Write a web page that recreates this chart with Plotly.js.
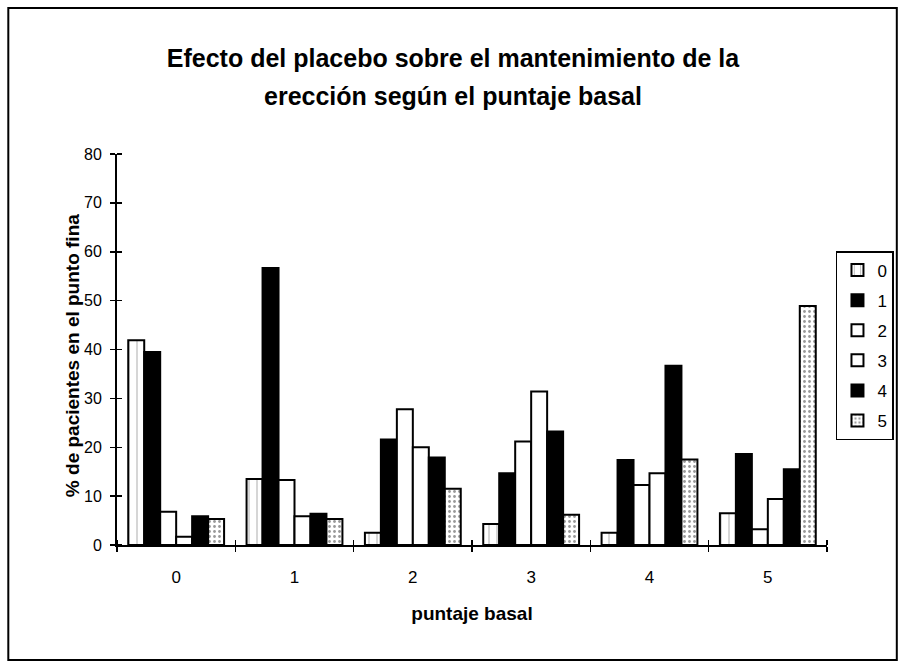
<!DOCTYPE html>
<html>
<head>
<meta charset="utf-8">
<script src="https://cdn.plot.ly/plotly-3.0.1.min.js"></script>
<style>html,body{margin:0;padding:0;background:#fff;}#chart{width:906px;height:669px;}</style>
</head>
<body>
<div id="chart"></div>
<script>
var categories = [0, 1, 2, 3, 4, 5];
var categoryLabels = ["0", "1", "2", "3", "4", "5"];
var seriesNames = ["0", "1", "2", "3", "4", "5"];
var s0 = [41.9, 13.5, 2.5, 4.3, 2.5, 6.5];
var s1 = [39.5, 56.7, 21.6, 14.7, 17.4, 18.6];
var s2 = [6.8, 13.3, 27.8, 21.2, 12.3, 3.2];
var s3 = [1.7, 5.9, 20.0, 31.4, 14.7, 9.4];
var s4 = [5.9, 6.4, 17.9, 23.2, 36.7, 15.5];
var s5 = [5.3, 5.3, 11.5, 6.2, 17.5, 48.9];
var yTicks = [0, 10, 20, 30, 40, 50, 60, 70, 80];
var boundaries = [-0.5, 0.5, 1.5, 2.5, 3.5, 4.5, 5.5];
var titleLine1 = "Efecto del placebo sobre el mantenimiento de la";
var titleLine2 = "erección según el puntaje basal";
var yTitle = "% de pacientes en el punto fina";
var xTitle = "puntaje basal";

var seriesValues = [s0, s1, s2, s3, s4, s5];
var fills = ["#ffffff", "#000000", "#ffffff", "#ffffff", "#000000", "#f2f2f2"];
var patterns = [
  {shape: "|", fgcolor: "#bbbbbb", bgcolor: "#ffffff", size: 8, solidity: 0.15},
  null, null, null, null,
  {shape: ".", fgcolor: "#999999", bgcolor: "#ffffff", size: 5, solidity: 0.25}
];

var traces = seriesValues.map(function (vals, i) {
  var m = {color: fills[i], line: {color: "#000", width: 2}};
  if (patterns[i]) m.pattern = patterns[i];
  return {
    type: "bar", x: categories, y: vals, name: seriesNames[i],
    legendgroup: "g" + i, marker: m
  };
});

var font = {family: "Liberation Sans, Arial, sans-serif", color: "#000"};
var l = 117, r = 77, t = 154, b = 124, W = 906, H = 669;
var pw = W - l - r, ph = H - t - b;
function px(x) { return (x - l) / pw; }
function py(y) { return (H - b - y) / ph; }

var layout = {
  width: W, height: H,
  margin: {l: l, r: r, t: t, b: b},
  paper_bgcolor: "#fff", plot_bgcolor: "#fff",
  font: {family: font.family, color: "#000", size: 17},
  title: {
    text: titleLine1,
    font: {family: font.family, size: 25, color: "#000", weight: "bold"},
    x: 0.5, xanchor: "center", y: 1 - 58 / H, yanchor: "middle", yref: "container"
  },
  annotations: [
    {text: "<b>" + titleLine2 + "</b>", xref: "paper", yref: "paper", x: px(454), y: py(96),
     xanchor: "center", yanchor: "middle", showarrow: false,
     font: {family: font.family, size: 25, color: "#000"}},
    {text: "<b>" + yTitle + "</b>", xref: "paper", yref: "paper", x: px(72), y: py(356),
     xanchor: "center", yanchor: "middle", showarrow: false, textangle: -90,
     font: {family: font.family, size: 19, color: "#000"}}
  ],
  barmode: "group", bargap: 0.19, bargroupgap: 0,
  showlegend: true,
  legend: {
    x: px(838), xanchor: "left", y: py(251), yanchor: "top",
    bordercolor: "#000", borderwidth: 1.5, bgcolor: "#fff",
    font: {family: font.family, size: 17, color: "#000"},
    tracegroupgap: 5, itemwidth: 30
  },
  xaxis: {
    range: [-0.5, 5.5], tickmode: "array", tickvals: boundaries,
    showticklabels: false, ticks: "outside", ticklen: 5, tickwidth: 1.5, tickcolor: "#000",
    minor: {tickmode: "array", tickvals: boundaries, ticks: "inside", ticklen: 5, tickwidth: 1.5, tickcolor: "#000"},
    showline: true, linecolor: "#000", linewidth: 2, showgrid: false, zeroline: false,
    fixedrange: true
  },
  xaxis2: {
    overlaying: "x", anchor: "y", side: "bottom",
    range: [-0.5, 5.5], tickmode: "array", tickvals: categories, ticktext: categoryLabels,
    ticks: "", showline: false, showgrid: false, zeroline: false,
    tickfont: {family: font.family, size: 17, color: "#000"}, ticklabelstandoff: 20,
    title: {text: xTitle, font: {family: font.family, size: 19, color: "#000", weight: "bold"}, standoff: 20}
  },
  yaxis: {
    range: [0, 80], tickmode: "array", tickvals: yTicks,
    ticks: "outside", ticklen: 5, tickwidth: 1.5, tickcolor: "#000",
    minor: {tickmode: "array", tickvals: yTicks, ticks: "inside", ticklen: 5, tickwidth: 1.5, tickcolor: "#000"},
    showline: true, linecolor: "#000", linewidth: 2, showgrid: false, zeroline: false,
    tickfont: {family: font.family, size: 16, color: "#000"}, ticklabelstandoff: 5
  },
  shapes: [{
    type: "rect", xref: "paper", yref: "paper",
    x0: px(8), x1: px(899), y0: py(660), y1: py(8),
    line: {color: "#000", width: 2}, fillcolor: "rgba(0,0,0,0)", layer: "below"
  }]
};

traces.push({type: "scatter", x: [0], y: [null], xaxis: "x2", yaxis: "y", showlegend: false, hoverinfo: "skip"});

Plotly.newPlot("chart", traces, layout, {staticPlot: true, displayModeBar: false});
</script>
</body>
</html>
